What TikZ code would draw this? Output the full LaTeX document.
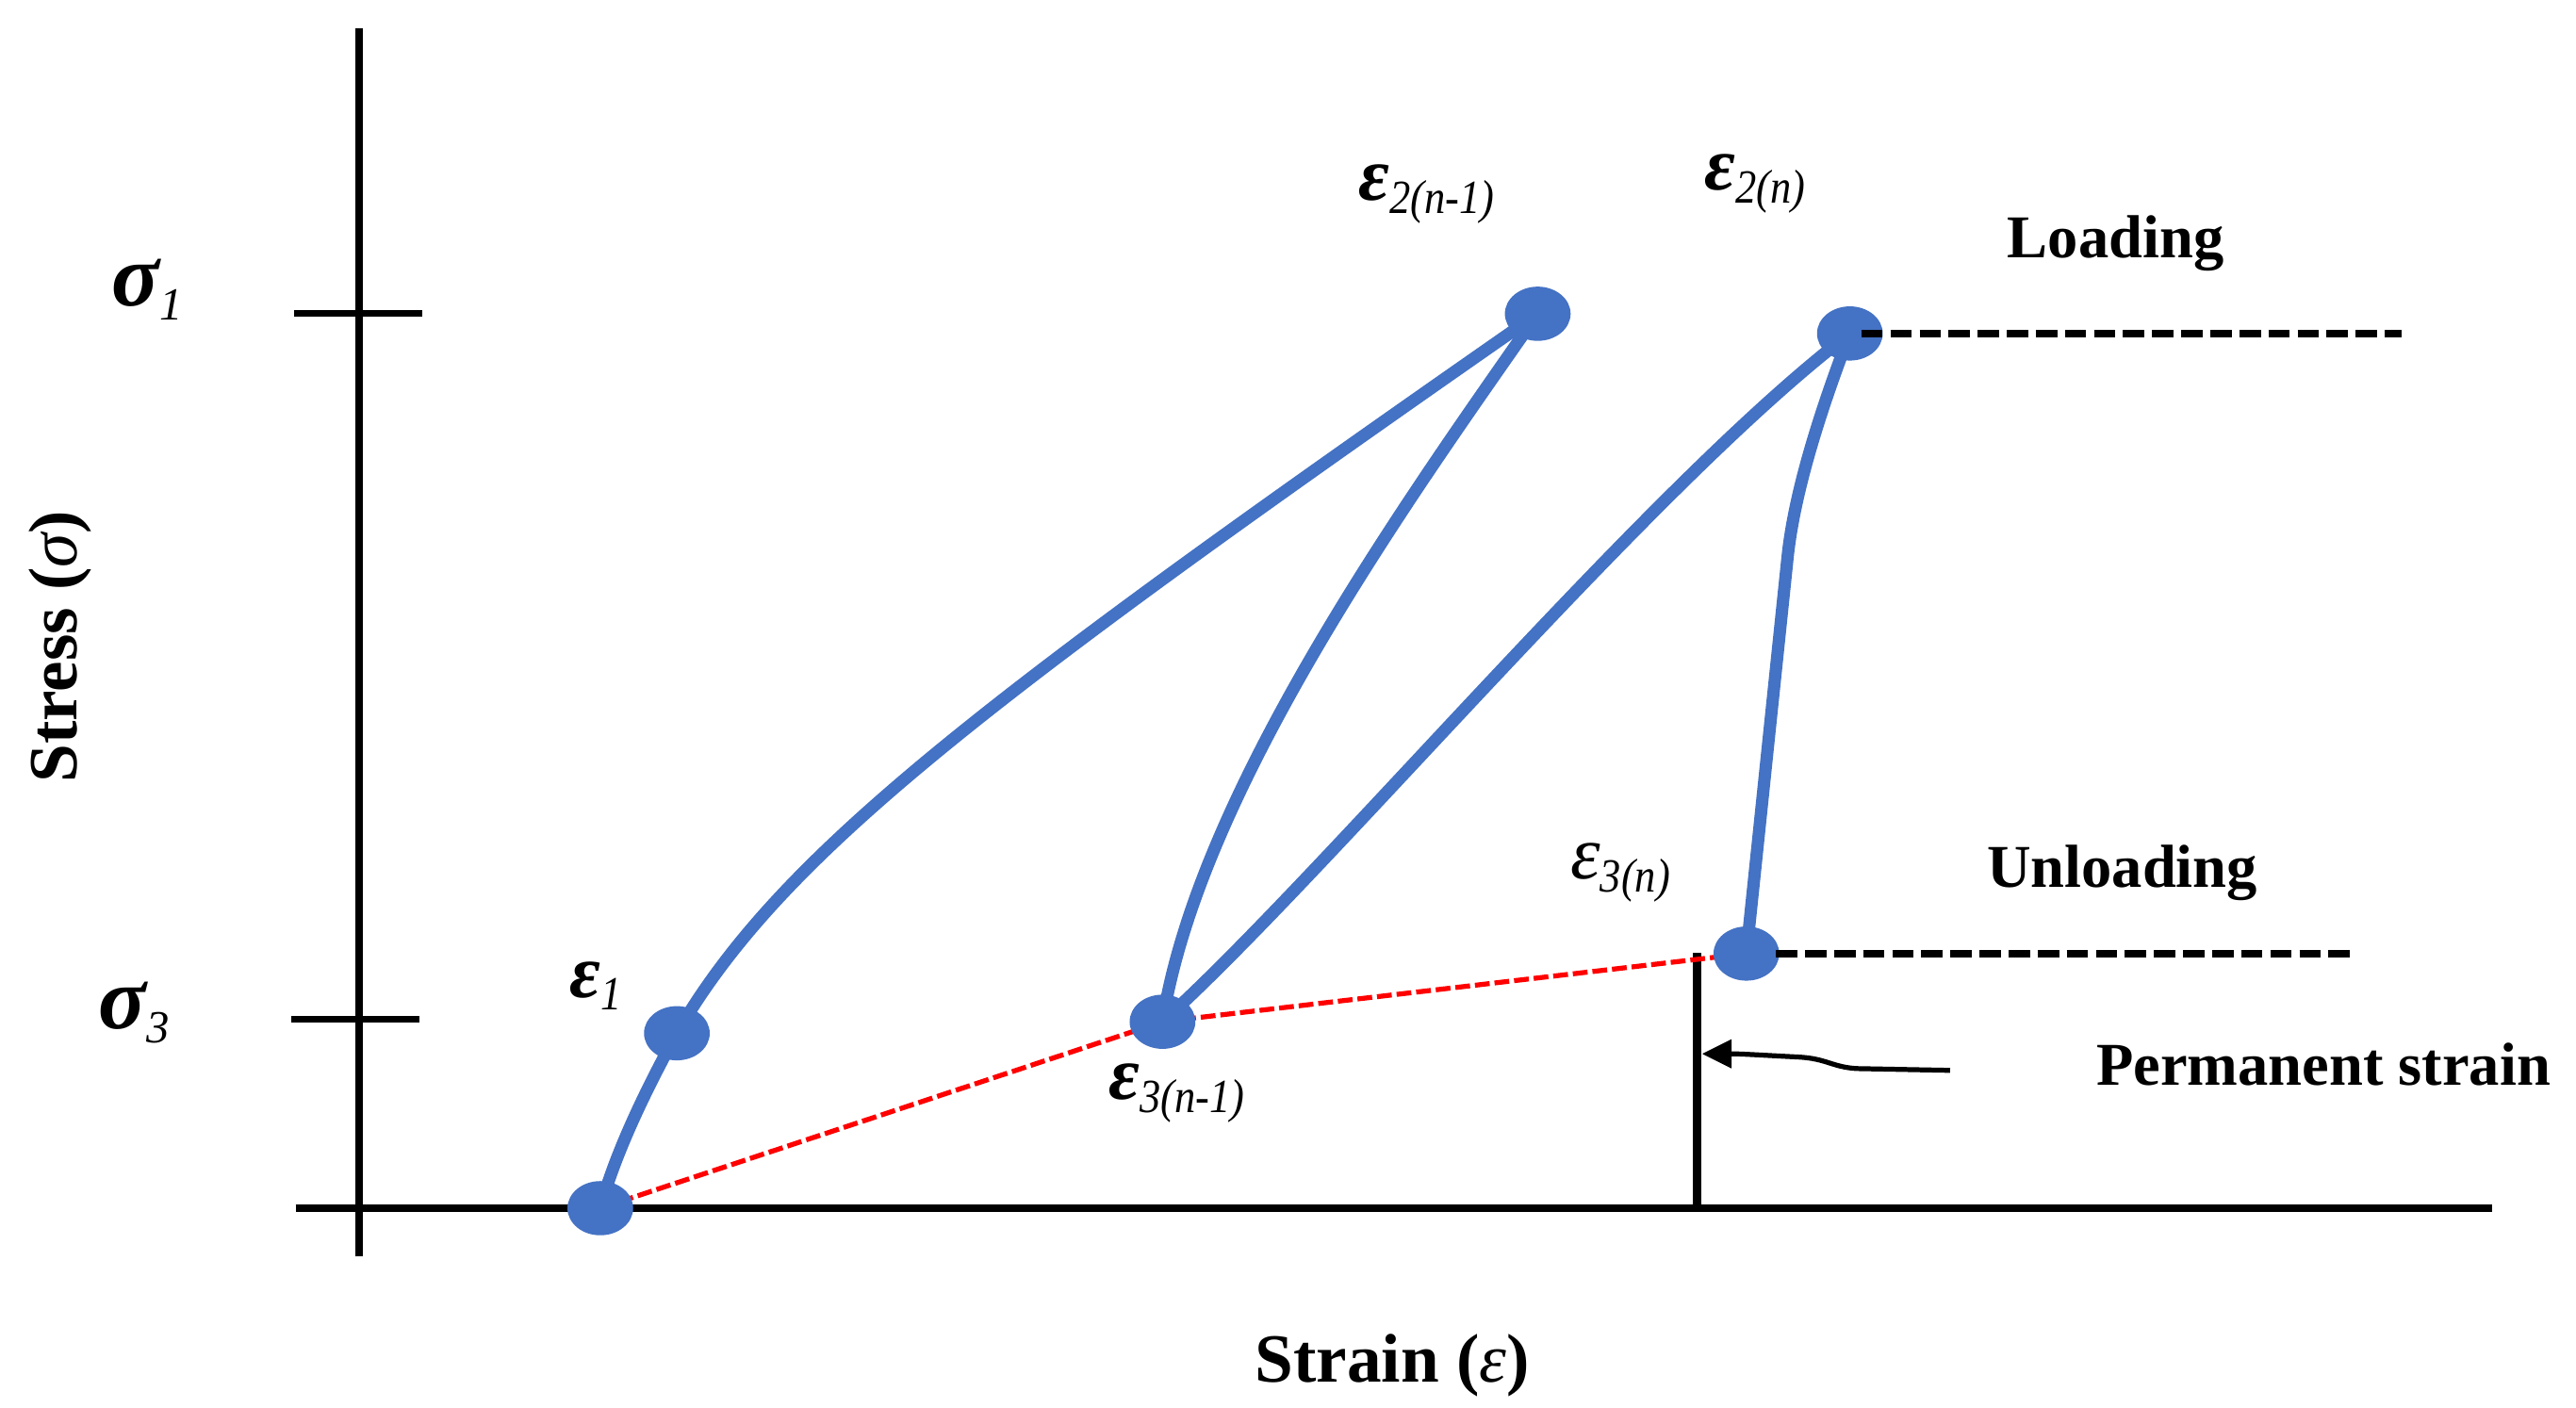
\documentclass[tikz,border=0pt]{standalone}
\usepackage{fontspec}
\setmainfont{Liberation Serif}
\usetikzlibrary{shapes.geometric,arrows.meta}
\definecolor{ptblue}{RGB}{68,114,196}
\definecolor{ptred}{RGB}{255,0,0}
\newcommand{\epslbl}[2][\bfseries]{{\fontsize{46}{46}\selectfont#1\itshape ε}\raisebox{-8pt}{\scalebox{0.88}[1]{\fontsize{29}{29}\selectfont\itshape #2}}}
\newcommand{\siglbl}[1]{{\fontsize{54}{54}\selectfont\bfseries\itshape σ}\raisebox{-8.5pt}{\fontsize{28}{28}\selectfont\itshape #1}}
\begin{document}
\begin{tikzpicture}[x=1pt,y=-1pt,
  axisline/.style={line width=4.7pt},
  axistick/.style={line width=4pt},
  curve/.style={ptblue, line width=7.5pt, line cap=round},
  permline/.style={ptred, line width=3pt, dash pattern=on 9pt off 3pt},
  levelline/.style={line width=4.8pt, dash pattern=on 13pt off 4.7pt},
  dot/.style={ellipse, fill=ptblue, minimum width=40pt, minimum height=33pt, inner sep=0pt},
  lbl/.style={anchor=base west, inner sep=0pt, outer sep=0pt},
  bigtxt/.style={font=\fontsize{37}{37}\selectfont\bfseries},
  axtxt/.style={font=\fontsize{42}{42}\selectfont\bfseries}]
\fill[white] (0,0) rectangle (1568,857);
\useasboundingbox (0,0) rectangle (1568,857);
% axes
\coordinate (yb) at (218.6,765);
\coordinate (yt) at (218.6,17);
\coordinate (xl) at (180,735.7);
\coordinate (xr) at (1517,735.7);
\draw[axisline] (yb) -- (yt);
\draw[axisline] (xl) -- (xr);
\coordinate (t1a) at (179,190.5);
\coordinate (t1b) at (257,190.5);
\coordinate (t3a) at (177,620.5);
\coordinate (t3b) at (255.3,620.5);
\draw[axistick] (t1a) -- (t1b);
\draw[axistick] (t3a) -- (t3b);
% points
\coordinate (p0) at (365.4,735.5);
\coordinate (p1) at (412,629);
\coordinate (p2) at (936,191);
\coordinate (p3) at (707.6,622);
\coordinate (p4) at (1126,203);
\coordinate (p5) at (1063,580.5);
% permanent strain
\coordinate (pstop) at (1033,580);
\coordinate (psbot) at (1033,735.7);
\draw[line width=5pt] (pstop) -- (psbot);
\draw[permline] (p0) -- (p3) -- (p5);
% curves
\draw[curve] (p0) .. controls (375,700) and (395,660) .. (p1);
\draw[curve] (p1) .. controls (475,520) and (600,425) .. (p2);
\draw[curve] (p2) .. controls (860,300) and (730,480) .. (p3);
\draw[curve] (p3) .. controls (807,532) and (1006,294) .. (p4);
\draw[curve] (p4) .. controls (1108,250) and (1092,300) .. (1088,340) -- (p5);
% dots
\node[dot] (d0) at (p0) {};
\node[dot] (d1) at (p1) {};
\node[dot] (d2) at (p2) {};
\node[dot] (d3) at (p3) {};
\node[dot] (d4) at (p4) {};
\node[dot] (d5) at (p5) {};
% level lines
\coordinate (l1s) at (1133,203);
\coordinate (l1e) at (1462,203);
\coordinate (l2s) at (1081,580.5);
\coordinate (l2e) at (1431,580.5);
\draw[levelline] (l1s) -- (l1e);
\draw[levelline] (l2s) -- (l2e);
% arrow
\coordinate (atail) at (1187,651.6);
\coordinate (atip) at (1036,641.5);
\draw[line width=3pt, -{Triangle[length=18pt,width=17pt]}] (atail) -- (1130,650.5) .. controls (1115,649.5) and (1112,644.5) .. (1095,643.5) .. controls (1075,642.5) and (1060,641.5) .. (atip);
% labels
\node[lbl] (s1) at (68,186) {\siglbl{1}};
\node[lbl] (s3) at (60,626.5) {\siglbl{3}};
\node[lbl, axtxt, rotate=90] (ylab) at (46.5,476.5) {Stress ({\mdseries\itshape σ})};
\node[lbl, axtxt] (xlab) at (764,841.5) {Strain ({\mdseries\itshape ε})};
\node[lbl] (e1) at (347,607) {\epslbl{1}};
\node[lbl] (e2a) at (827,122) {\epslbl{2(n-1)}};
\node[lbl] (e2b) at (1037.6,115.7) {\epslbl{2(n)}};
\node[lbl] (e3a) at (675,669.5) {\epslbl{3(n-1)}};
\node[lbl] (e3b) at (956,535) {\epslbl[\mdseries]{3(n)}};
\node[lbl, bigtxt] (load) at (1222,157) {Loading};
\node[lbl, bigtxt] (unload) at (1209.5,540) {Unloading};
\node[lbl, bigtxt] (perm) at (1276,660.7) {Permanent strain};
\end{tikzpicture}
\end{document}
